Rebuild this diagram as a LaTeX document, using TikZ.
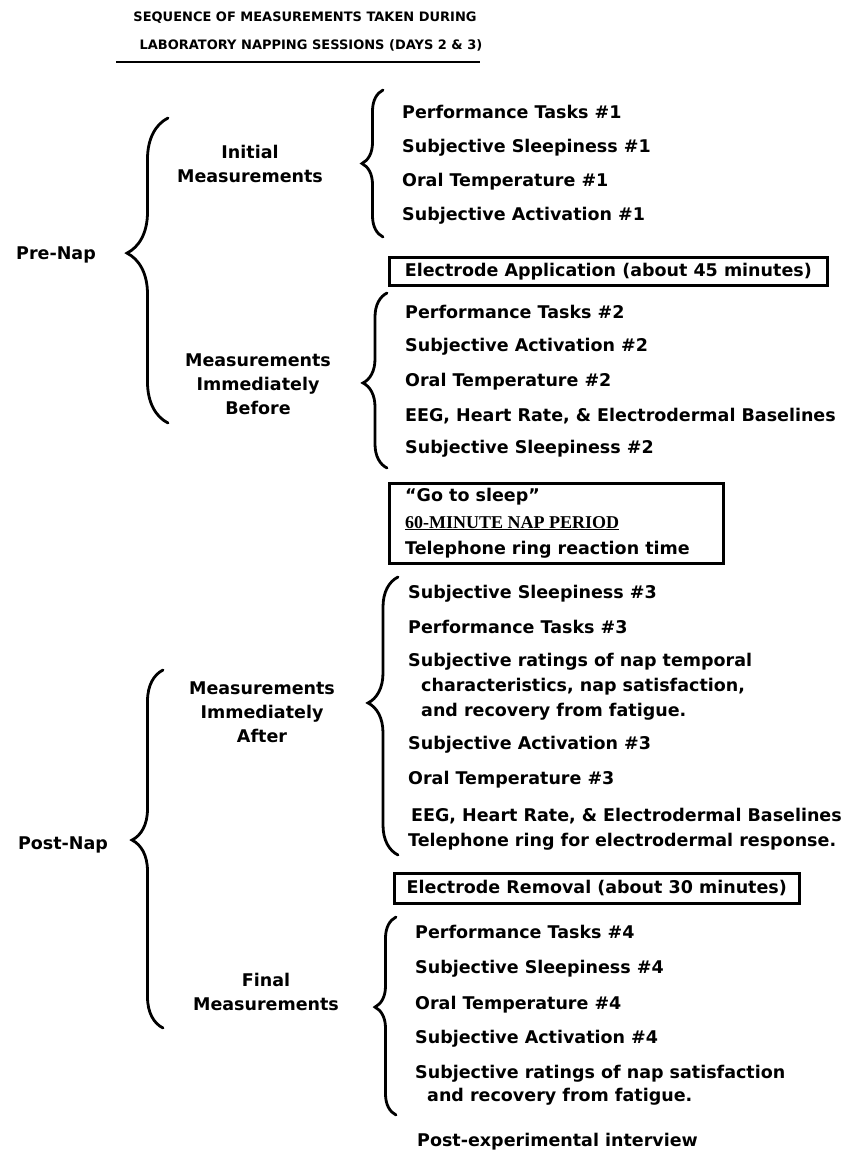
\documentclass[tikz,border=0pt]{standalone}
\usepackage{fontspec}
\setmainfont{DejaVu Sans}
\newfontfamily\serifbold{Liberation Serif}
\usetikzlibrary{decorations.pathreplacing}
\newcommand{\itemfont}{\fontsize{17.5}{24}\selectfont\bfseries}
\newcommand{\titlefont}{\fontsize{13}{16}\selectfont\bfseries}
\tikzset{
  item/.style={anchor=base west, inner sep=0pt, font=\itemfont},
  grp/.style={align=center, inner sep=0pt, font=\itemfont},
  brc/.style 2 args={decorate, line width=2.8pt, line cap=round,
    decoration={brace, amplitude=#1, aspect=#2}},
  boxst/.style={draw, line width=2.6pt, anchor=north west, inner sep=0pt, font=\itemfont}
}
\begin{document}
\begin{tikzpicture}[x=1pt,y=-1pt]
\useasboundingbox (0,0) rectangle (866,1154);
% title
\node[font=\titlefont, inner sep=0pt] (t1) at (305,18) {SEQUENCE OF MEASUREMENTS TAKEN DURING};
\node[font=\titlefont, inner sep=0pt] (t2) at (311,45) {LABORATORY NAPPING SESSIONS (DAYS 2 \& 3)};
\coordinate (ul1) at (116,62);
\coordinate (ul2) at (480,62);
\draw[line width=2.8pt] (ul1) -- (ul2);

% top-level groups
\node[grp] (pre) at (56,255) {Pre-Nap};
\node[grp] (post) at (63,845) {Post-Nap};

% second-level groups
\node[grp] (init) at (250,164) {Initial\\Measurements};
\node[grp] (before) at (258,384) {Measurements\\Immediately\\Before};
\node[grp] (after) at (262,712) {Measurements\\Immediately\\After};
\node[grp] (final) at (266,992) {Final\\Measurements};

% braces
\coordinate (pt) at (168,118); \coordinate (pb) at (168,423);
\draw[brc={41pt}{0.557}] (pb) -- (pt);
\coordinate (qt) at (163,670); \coordinate (qb) at (163,1028);
\draw[brc={31pt}{0.525}] (qb) -- (qt);
\coordinate (at) at (383,90); \coordinate (ab) at (383,237);
\draw[brc={21pt}{0.5}] (ab) -- (at);
\coordinate (bt) at (387,293); \coordinate (bb) at (387,468);
\draw[brc={24pt}{0.486}] (bb) -- (bt);
\coordinate (ct) at (398,577); \coordinate (cb) at (398,855);
\draw[brc={30pt}{0.547}] (cb) -- (ct);
\coordinate (dt) at (396,917); \coordinate (db) at (396,1115);
\draw[brc={21pt}{0.545}] (db) -- (dt);

% initial items
\node[item] (a1) at (402,118) {Performance Tasks \#1};
\node[item] (a2) at (402,152) {Subjective Sleepiness \#1};
\node[item] (a3) at (402,186) {Oral Temperature \#1};
\node[item] (a4) at (402,220) {Subjective Activation \#1};

\node[boxst, minimum width=438pt, minimum height=28pt] (eapp) at (388,256) {Electrode Application (about 45 minutes)};

% before items
\node[item] (b1) at (405,318) {Performance Tasks \#2};
\node[item] (b2) at (405,351) {Subjective Activation \#2};
\node[item] (b3) at (405,386) {Oral Temperature \#2};
\node[item] (b4) at (405,421) {EEG, Heart Rate, \& Electrodermal Baselines};
\node[item] (b5) at (405,453) {Subjective Sleepiness \#2};

% nap box
\node[boxst, minimum width=334pt, minimum height=80pt] (nap) at (388,482) {};
\node[item] (n1) at (405,501) {``Go to sleep''};
\node[item, font={\serifbold\fontsize{18}{24}\selectfont\bfseries}] (n2) at (405,528) {\underline{60-MINUTE NAP PERIOD}};
\node[item] (n3) at (405,554) {Telephone ring reaction time};

% after items
\node[item] (c1) at (408,598) {Subjective Sleepiness \#3};
\node[item] (c2) at (408,633) {Performance Tasks \#3};
\node[item] (c3a) at (408,666) {Subjective ratings of nap temporal};
\node[item] (c3b) at (421,691) {characteristics, nap satisfaction,};
\node[item] (c3c) at (421,716) {and recovery from fatigue.};
\node[item] (c4) at (408,749) {Subjective Activation \#3};
\node[item] (c5) at (408,784) {Oral Temperature \#3};
\node[item] (c6a) at (411,821) {EEG, Heart Rate, \& Electrodermal Baselines};
\node[item] (c6b) at (408,846) {Telephone ring for electrodermal response.};

\node[boxst, minimum width=405pt, minimum height=30pt] (erem) at (393,872) {Electrode Removal (about 30 minutes)};

% final items
\node[item] (d1) at (415,938) {Performance Tasks \#4};
\node[item] (d2) at (415,973) {Subjective Sleepiness \#4};
\node[item] (d3) at (415,1009) {Oral Temperature \#4};
\node[item] (d4) at (415,1043) {Subjective Activation \#4};
\node[item] (d5a) at (415,1078) {Subjective ratings of nap satisfaction};
\node[item] (d5b) at (427,1101) {and recovery from fatigue.};

\node[item] (pei) at (417,1146) {Post-experimental interview};
\end{tikzpicture}
\end{document}
